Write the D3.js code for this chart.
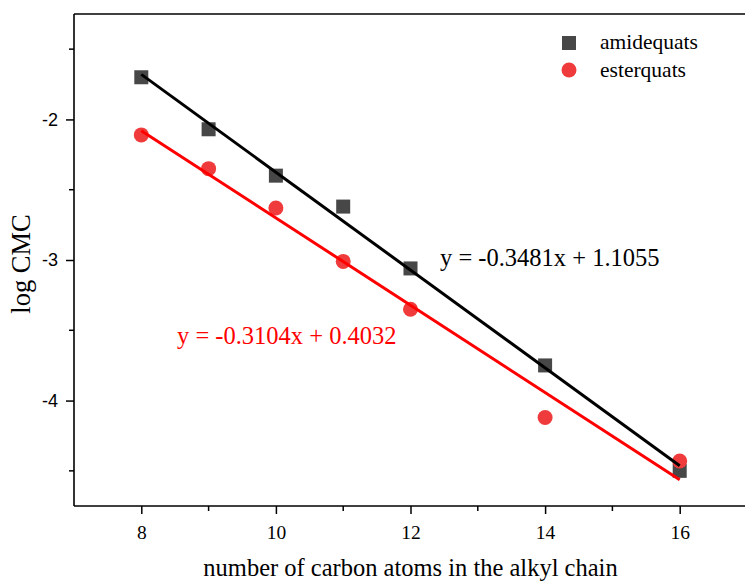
<!DOCTYPE html>
<html>
<head>
<meta charset="utf-8">
<script src="https://cdn.jsdelivr.net/npm/d3@7"></script>
<style>
  html, body { margin: 0; padding: 0; background: #fff; }
  svg { display: block; }
</style>
</head>
<body>
<svg id="chart" width="745" height="583"></svg>
<script>
// Carbon chain length for each surfactant
const carbons = [8, 9, 10, 11, 12, 14, 16];
// log CMC values for each family
const amidequats = [-1.70, -2.07, -2.40, -2.62, -3.06, -3.75, -4.50];
const esterquats = [-2.11, -2.35, -2.63, -3.01, -3.35, -4.12, -4.43];
// Linear fit coefficients (slope, intercept)
const amideFit = [-0.3481, 1.1055];
const esterFit = [-0.3104, 0.4032];
const fitRange = [8, 16];
// Axis ticks
const xTicks = [8, 10, 12, 14, 16];
const xMinorTicks = [9, 11, 13, 15];
const yTicks = [-4, -3, -2];
const yMinorTicks = [-4.5, -3.5, -2.5, -1.5];
const legendNames = ["amidequats", "esterquats"];

const svg = d3.select("#chart");
const margin = { left: 74, top: 14, right: -2, bottom: 77 };
const W = 745, H = 583;

const x = d3.scaleLinear().domain([7, 17]).range([margin.left, W - margin.right]);
const y = d3.scaleLinear().domain([-4.75, -1.25]).range([H - margin.bottom, margin.top]);

const serif = "'Liberation Serif', 'Times New Roman', serif";
const sans = "'Liberation Sans', Arial, sans-serif";
const plain = d => String(d);

// Top frame line
svg.append("line")
  .attr("x1", margin.left).attr("x2", W)
  .attr("y1", y(-1.25)).attr("y2", y(-1.25))
  .attr("stroke", "#000").attr("stroke-width", 1.6);

// Bottom axis
const xAxis = svg.append("g")
  .attr("transform", `translate(0,${y(-4.75)})`)
  .call(d3.axisBottom(x).tickValues(xTicks).tickSize(8).tickPadding(11).tickFormat(plain));
xAxis.select(".domain").attr("stroke-width", 1.6).attr("d", `M${margin.left},0H${W}`);
xAxis.selectAll(".tick line").attr("stroke-width", 1.5);
xAxis.selectAll("text").attr("font-family", serif).attr("font-size", 19.5).attr("fill", "#000");
xAxis.append("g").selectAll("line").data(xMinorTicks).join("line")
  .attr("x1", d => x(d)).attr("x2", d => x(d))
  .attr("y1", 0).attr("y2", 5)
  .attr("stroke", "#000").attr("stroke-width", 1.5);

// Left axis
const yAxis = svg.append("g")
  .attr("transform", `translate(${margin.left},0)`)
  .call(d3.axisLeft(y).tickValues(yTicks).tickSize(8).tickPadding(8).tickFormat(plain));
yAxis.select(".domain").attr("stroke-width", 1.6).attr("d", `M0,${y(-1.25)}V${y(-4.75)}`);
yAxis.selectAll(".tick line").attr("stroke-width", 1.5);
yAxis.selectAll("text").attr("font-family", sans).attr("font-size", 18).attr("fill", "#000");
yAxis.append("g").selectAll("line").data(yMinorTicks).join("line")
  .attr("x1", 0).attr("x2", -5)
  .attr("y1", d => y(d)).attr("y2", d => y(d))
  .attr("stroke", "#000").attr("stroke-width", 1.5);

// Axis titles
svg.append("text")
  .attr("x", (203 + 618) / 2).attr("y", 576)
  .attr("text-anchor", "middle")
  .attr("font-family", serif).attr("font-size", 24.5)
  .text("number of carbon atoms in the alkyl chain");

svg.append("text")
  .attr("transform", "translate(30,264) rotate(-90)")
  .attr("text-anchor", "middle")
  .attr("font-family", serif).attr("font-size", 26.5)
  .text("log CMC");

// Fit lines
const fitLine = (fit) => fitRange.map(c => [x(c), y(fit[0] * c + fit[1])]);
const line = d3.line();

// Markers
const amideColor = "#474747";
const esterColor = "#ef3b3b";
const sq = 14;

svg.append("g").selectAll("rect").data(carbons).join("rect")
  .attr("x", (d) => x(d) - sq / 2)
  .attr("y", (d, i) => y(amidequats[i]) - sq / 2)
  .attr("width", sq).attr("height", sq)
  .attr("fill", amideColor);

svg.append("g").selectAll("circle").data(carbons).join("circle")
  .attr("cx", d => x(d))
  .attr("cy", (d, i) => y(esterquats[i]))
  .attr("r", 7.5)
  .attr("fill", esterColor);

svg.append("path").attr("d", line(fitLine(esterFit)))
  .attr("stroke", "#ff0000").attr("stroke-width", 3).attr("fill", "none");
svg.append("path").attr("d", line(fitLine(amideFit)))
  .attr("stroke", "#000").attr("stroke-width", 3).attr("fill", "none");

// Fit equations
const fmt = (f) => `y = ${f[0].toFixed(4)}x + ${f[1].toFixed(4)}`;
svg.append("text")
  .attr("x", 440).attr("y", 266)
  .attr("font-family", serif).attr("font-size", 24.5).attr("fill", "#000")
  .text(fmt(amideFit));
svg.append("text")
  .attr("x", 177).attr("y", 344)
  .attr("font-family", serif).attr("font-size", 24.5).attr("fill", "#ff0000")
  .text(fmt(esterFit));

// Legend
const legend = svg.append("g");
legend.append("rect")
  .attr("x", 569 - sq / 2).attr("y", 43 - sq / 2)
  .attr("width", sq).attr("height", sq).attr("fill", amideColor);
legend.append("circle")
  .attr("cx", 569).attr("cy", 70).attr("r", 7.5).attr("fill", esterColor);
legend.selectAll("text").data(legendNames).join("text")
  .attr("x", 600).attr("y", (d, i) => 49 + i * 28)
  .attr("font-family", serif).attr("font-size", 21.5).attr("fill", "#000")
  .text(d => d);
</script>
</body>
</html>
